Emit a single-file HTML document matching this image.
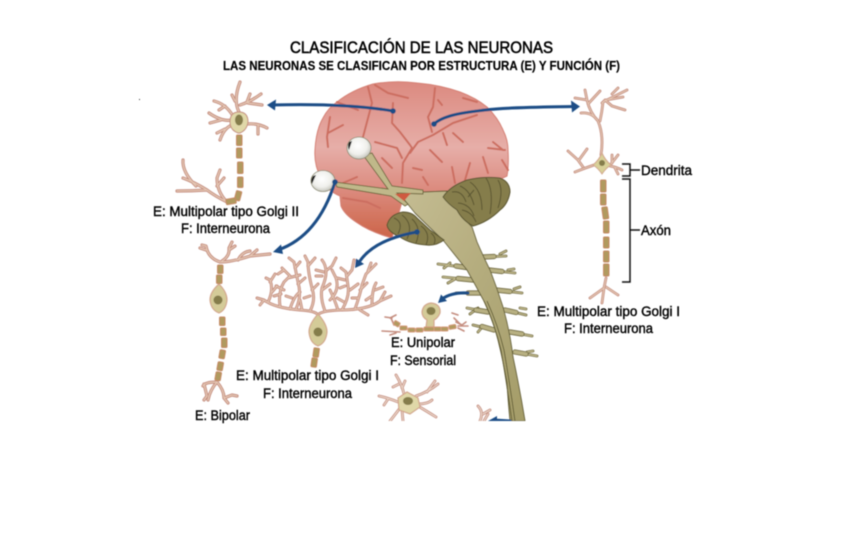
<!DOCTYPE html>
<html><head><meta charset="utf-8"><style>
html,body{margin:0;padding:0;background:#fff;width:864px;height:540px;overflow:hidden}
svg{display:block}
text{font-family:"Liberation Sans",sans-serif;fill:#000}
</style></head><body>
<svg width="864" height="540" viewBox="0 0 864 540" xmlns="http://www.w3.org/2000/svg">
<defs>
<linearGradient id="br" x1="0" y1="0" x2="0" y2="1">
<stop offset="0" stop-color="#dc8a80"/><stop offset=".42" stop-color="#e6aea8"/><stop offset=".68" stop-color="#dc8c80"/><stop offset="1" stop-color="#cc6448"/>
</linearGradient>
<linearGradient id="cord" x1="0" y1="0" x2="1" y2="1">
<stop offset="0" stop-color="#c4bc92"/><stop offset="1" stop-color="#a49c68"/>
</linearGradient>
<radialGradient id="eye" cx=".45" cy=".4" r=".7"><stop offset="0" stop-color="#fff"/><stop offset=".55" stop-color="#f0f0ec"/><stop offset="1" stop-color="#b4b4aa"/></radialGradient>
<filter id="b" x="-5%" y="-5%" width="110%" height="110%"><feGaussianBlur stdDeviation="0.4"/></filter>
<clipPath id="cut"><rect x="0" y="0" width="864" height="421"/></clipPath>

<g id="d1" fill="none" stroke-linecap="round" stroke-linejoin="round">
<path d="M239 112Q233 100 240 82M235 101L232 95M240 105Q250 102 261 94M247 102L250 94M248 103L262 105M233 116Q226 104 214 101M225 106L219 110M232 120Q222 122 209 113M221 120L210 123M232 125Q224 128 220 140M225 129L217 133M247 124Q258 123 267 128M258 125L258 134"/>
<path d="M227 202Q215 196 207 190Q192 191 177 191M207 190Q194 182 183 178M196 186Q182 172 183 160M227 202Q217 192 217 178L220 170M217 186L224 178"/>
</g>
<g id="d2" fill="none" stroke-linecap="round" stroke-linejoin="round">
<path d="M220 262Q232 262 250 256L270 254M220 262Q208 258 206 246L202 245M206 250L200 248M222 261Q230 256 229 248L232 242M229 250L235 246M238 260Q242 252 250 251M250 256L257 250"/>
<path d="M217 382Q205 382 203 386M204 384L207 396L204 400M217 382Q210 390 208 400M217 382Q224 390 224 398L232 395L237 396M224 398L228 403"/>
</g>
<g id="d3" fill="none" stroke-linecap="round" stroke-linejoin="round">
<path d="M318 315Q316 311 300 310Q275 308 264 300L257 298M264 300L260 305M318 315Q320 311 340 310Q368 310 380 301L391 296M380 301L385 292M360 310L368 315"/>
<path d="M268 302Q274 290 270 280L266 278M270 282L275 274M280 306Q278 292 284 282L290 276L282 268M288 278L300 275M284 290L276 286M290 309Q294 296 300 292M296 309Q302 296 298 282L294 262L289 258M295 268L300 262M298 284L305 278M310 311Q316 300 312 288Q308 272 308 262L305 256M308 266L315 258M312 290L318 284M325 311Q320 298 322 288Q330 270 322 260M324 272L316 270M327 270L332 266L336 258M322 290L330 284M338 310Q334 298 330 290M330 300Q340 290 336 278L332 270M342 310Q350 296 348 286L346 272L341 268M347 276L352 270L354 260M350 290L358 284M355 309Q360 295 362 285M360 290L367 283M362 285L366 274L376 264M368 271L371 263M372 304Q372 290 376 283M375 290L383 287M302 310L300 300M337 278L345 280M274 296L281 294M292 298L286 296M304 298L310 296M344 302L337 298M366 300L372 296M277 286L272 292M352 298L358 298M316 276L322 276M284 270L278 274M340 288L345 286"/>
</g>
<g id="d4" fill="none" stroke-linecap="round" stroke-linejoin="round">
<path d="M385 317L392 318M390 318L396 315M391 318L394 325M400 332L382 331M396 333L390 335M458 315L452 313M456 322L462 325L466 322M458 326L468 326M458 328L464 331M460 324L454 318"/>
</g>
<g id="d5" fill="none" stroke-linecap="round" stroke-linejoin="round">
<path d="M404 394Q402 385 396 375M399 384L393 387M402 388L405 381M416 396Q428 392 438 384M427 392L435 381M418 404Q428 404 432 400M418 406Q428 412 436 417M398 402Q388 398 379 396M388 399L384 405M400 408Q394 416 390 421M402 410L403 421"/>
<path d="M480 421Q484 412 478 406M483 414L490 410M484 421L488 414"/>
</g>
<g id="d6" fill="none" stroke-linecap="round" stroke-linejoin="round">
<path d="M601 155Q604 135 598 121Q592 112 581 113M598 121Q590 113 587 100L575 98M587 100L585 90M588 104L600 91M600 121Q602 112 603 102L627 90M604 101L602 103M606 100L623 97M605 100L612 106L625 110M612 94L618 88"/>
<path d="M594 165Q585 168 575 172M583 167L578 160L568 151M579 160L587 149M610 166Q616 167 622 170M611 164L618 155M612 163L612 155M615 168L618 174"/>
<path d="M606 278L604 288L590 298M604 288L602 303M606 287L618 295"/>
</g>
<g id="nv" fill="none" stroke-linecap="round">
<path d="M483 257L506 256M500 254L506 251M489 270L515 273M508 270L514 269M496 290L522 293M514 289L520 287M505 310L526 315M520 308L526 309M510 332L532 336M515 352L537 356M527 352L533 351M470 268L438 264M450 263L444 268M473 280L443 277M455 279L448 283M480 293L456 293M488 312L467 308M478 308L470 314M494 330L473 325M483 326L478 332"/>
</g>
<g id="rt" fill="none" stroke-linecap="round">
<path d="M483 257L494 256.500M489 270L502 271.500M496 290L510 291.500M505 310L516 312.500M510 332L522 334M515 352L526 354M470 268L456 266M473 280L458 278.500M480 293L468 293M488 312L476 310M494 330L482 326.500"/>
</g>
</defs>

<g filter="url(#b)">
<g clip-path="url(#cut)">
<!-- brain -->
<path d="M337 102Q352 90 373 84Q395 80 417 83Q440 85 460 92Q476 98 487 107Q498 118 503 130Q508 140 508 150Q509 165 507 176L490 184L443 193L403 198L392 238Q370 232 356 222Q344 214 341 206L340 196Q326 190 321 178Q314 165 315 150Q316 130 323 118Q328 108 337 102Z" fill="url(#br)" stroke="#d58074" stroke-width="1"/>
<g fill="none" stroke="#cc6e60" stroke-width="2" stroke-linecap="round" stroke-linejoin="round">
<path d="M368 87L372 103L363 137M375 85L388 93L408 98M393 103L392 123L400 132L410 145L412 148L403 163L402 183M435 88L433 107L428 117L432 132M438 100L442 105M418 142L433 135L453 123L477 115M463 98L477 102M418 142L410 153M430 150L442 162M443 133L447 145M453 133L463 142M488 148L505 150M493 142L503 150M483 157L488 173M502 160L508 170M470 163L465 180M452 167L455 183M375 142L397 148L402 158M382 158L392 168M330 117L327 137L328 147M337 102L358 110M328 133L343 125M357 177L343 183M343 198L367 202L380 208M423 177L428 185M413 168L422 170"/>
</g>
<!-- spinal nerves -->
<use href="#nv" stroke="#6b6438" stroke-width="2.8"/>
<use href="#nv" stroke="#bdb588" stroke-width="1.4"/>
<use href="#rt" stroke="#6b6438" stroke-width="5.200"/>
<use href="#rt" stroke="#b8b082" stroke-width="3.600"/>
<!-- cord -->
<path d="M403 198Q405 193 423 192L447 191Q450 202 457 210Q465 220 472 227L477 242Q484 258 490 270Q497 288 503 307Q510 332 513 357Q520 390 525 421L510 421Q508 400 507 383Q503 360 498 340Q493 320 485 303Q476 286 467 270Q455 255 443 240Q428 226 415 213Z" fill="url(#cord)" stroke="#5f5a32" stroke-width="0.9"/>
<path d="M484 301Q495 325 501 350Q507 385 512 421M487 301Q498 325 504 350Q510 385 515 421" fill="none" stroke="#5f5a32" stroke-width="0.9"/>
<!-- lower lobe -->
<path d="M387 225Q390 214 403 212Q412 212 417 218L430 230L444 240Q436 246 427 245Q410 244 400 237Q388 232 387 225Z" fill="#857d4b" stroke="#5a5530" stroke-width="1"/>
<g fill="none" stroke="#5a5530" stroke-width="1"><path d="M394 218Q404 222 398 234M402 215Q414 224 407 239M412 219Q422 228 416 243M421 226Q431 233 426 245M431 233Q437 238 434 244"/></g>
<!-- cerebellum -->
<path d="M443 197Q450 186 467 180Q483 176 500 178Q510 182 510 192Q508 204 500 210Q488 222 473 226Q462 220 457 210Q448 204 443 197Z" fill="#857d4b" stroke="#5a5530" stroke-width="1"/>
<g fill="none" stroke="#5a5530" stroke-width="1"><path d="M452 192Q462 190 466 202M460 186Q470 190 474 205M458 203Q470 204 474 216M462 210Q472 212 476 222M470 182Q482 190 482 210M486 178Q494 190 490 214M498 180Q504 190 498 208M474 190L468 197"/></g>
<!-- optic nerves -->
<path d="M363 155L372 153L392 186L423 190L423 194L397 193L408 204L405 206L391 196L337 187L335 182L388 189Z" fill="#c0b88a" stroke="#6b6438" stroke-width="0.9"/>
<path d="M395 194L411 193L404 201Z" fill="#cf5a40"/>
<!-- eyes -->
<ellipse cx="359" cy="148" rx="12" ry="11" fill="url(#eye)" stroke="#8a8a70" stroke-width=".8"/>
<path d="M349 142Q347 146 349 150L352 141Z" fill="#222"/>
<ellipse cx="323" cy="181" rx="12" ry="10.500" fill="url(#eye)" stroke="#8a8a70" stroke-width=".8"/>
<path d="M313 176Q310 180 312 184L316 175Z" fill="#222"/>

<!-- neuron 1 -->
<use href="#d1" stroke="#c58e80" stroke-width="3.2"/><use href="#d1" stroke="#e4c6b2" stroke-width="1.3"/>
<path d="M239 112Q248 112 248 122Q247 130 240 133L238 133Q230 130 230 122Q230 112 239 112Z" fill="#e0d8a8" stroke="#c58e80"/>
<ellipse cx="239" cy="120" rx="4" ry="5.500" fill="#857d4b"/>
<g fill="#b09a5e" stroke="#c68a66" stroke-width="1"><rect x="236.500" y="135" width="5.500" height="10.500" rx="1"/><rect x="236.500" y="148" width="5.500" height="10" rx="1"/><rect x="237.500" y="162" width="5.500" height="11.500" rx="1"/><rect x="237.500" y="177" width="5.500" height="10.500" rx="1"/><rect x="235.500" y="191" width="5.500" height="9.500" rx="1" transform="rotate(15 238 195)"/><rect x="226" y="198.500" width="10" height="5.500" rx="1" transform="rotate(-10 231 201)"/></g>

<!-- neuron 2 -->
<use href="#d2" stroke="#c58e80" stroke-width="3.2"/><use href="#d2" stroke="#e4c6b2" stroke-width="1.3"/>
<path d="M219 284Q227 292 227 300Q226 310 219 313Q211 310 210 300Q210 292 219 284Z" fill="#d4cb98" stroke="#d3a78e" stroke-width="1.2"/>
<ellipse cx="218" cy="300" rx="4.500" ry="4.500" fill="#857d4b"/>
<g fill="#b09a5e" stroke="#c68a66" stroke-width="1"><rect x="217.500" y="265" width="5.500" height="8.500" rx="1"/><rect x="216.500" y="275" width="5.500" height="8.500" rx="1"/><rect x="219.500" y="317" width="5.500" height="8.500" rx="1"/><rect x="220.500" y="328" width="5.500" height="7.500" rx="1"/><rect x="221.500" y="338" width="5.500" height="9.500" rx="1"/><rect x="219.500" y="350" width="5.500" height="8.500" rx="1" transform="rotate(10 222 354)"/><rect x="217.500" y="362" width="5.500" height="8.500" rx="1" transform="rotate(10 220 366)"/><rect x="215.500" y="372" width="5.500" height="8.500" rx="1" transform="rotate(10 218 376)"/></g>

<!-- neuron 3 -->
<use href="#d3" stroke="#c58e80" stroke-width="3"/><use href="#d3" stroke="#e4c6b2" stroke-width="1.1"/>
<path d="M318 314Q327 324 327 332Q326 343 318 346Q310 343 309 332Q309 324 318 314Z" fill="#d4cb98" stroke="#d3a78e" stroke-width="1.2"/>
<circle cx="318" cy="332" r="4.500" fill="#857d4b"/>
<g fill="#b09a5e" stroke="#c68a66" stroke-width="1"><rect x="313.500" y="348" width="5.500" height="9" rx="1" transform="rotate(8 316 352)"/><rect x="311.500" y="358" width="5.500" height="9" rx="1" transform="rotate(8 314 362)"/></g>

<!-- neuron 4 -->
<use href="#d4" stroke="#c58e80" stroke-width="1.6"/>
<path d="M431 303Q441 304 440 313Q438 318 434 320L434 327L426 327L427 320Q422 317 422 312Q423 304 431 303Z" fill="#d4cb98" stroke="#d3a78e" stroke-width="1.2"/>
<ellipse cx="431" cy="311" rx="4.500" ry="4" fill="#857d4b"/>
<g fill="#b09a5e" stroke="#d49a7a" stroke-width="1"><rect x="394" y="321" width="6" height="4.500" rx="1" transform="rotate(30 396 323)"/><rect x="400" y="326" width="7" height="4" rx="1"/><rect x="408" y="328" width="7" height="4" rx="1"/><rect x="416" y="328" width="7" height="4" rx="1"/><rect x="424" y="327" width="10" height="4" rx="1"/><rect x="434" y="327" width="7" height="4" rx="1"/><rect x="441" y="327" width="7" height="4" rx="1"/><rect x="449" y="325" width="7" height="4" rx="1" transform="rotate(-10 452 327)"/></g>

<!-- neuron 5 -->
<use href="#d5" stroke="#c58e80" stroke-width="2.8"/><use href="#d5" stroke="#ecd8ca" stroke-width="1.1"/>
<path d="M398 398L407 392L418 398L420 407L410 414L399 410Z" fill="#e0d8a8" stroke="#d3a78e" stroke-width="1.2"/>
<ellipse cx="408" cy="401" rx="5" ry="4" fill="#857d4b"/>

<!-- neuron right -->
<use href="#d6" stroke="#c58e80" stroke-width="2.8"/><use href="#d6" stroke="#e4c6b2" stroke-width="1.1"/>
<path d="M602 153Q605 160 611 165Q606 168 602 174Q598 168 593 165Q599 160 602 153Z" fill="#d8d098" stroke="#d3a78e" stroke-width="1"/>
<ellipse cx="602" cy="163" rx="3" ry="3" fill="#857d4b"/>
<g fill="#b09a5e" stroke="#c68a66" stroke-width="1"><rect x="600.500" y="180" width="5.500" height="12" rx="1"/><rect x="600.500" y="194" width="5.500" height="11" rx="1"/><rect x="602.500" y="207" width="5.500" height="12" rx="1" transform="rotate(-8 605 213)"/><rect x="603.500" y="221" width="5.500" height="12" rx="1"/><rect x="603.500" y="237" width="5.500" height="11" rx="1"/><rect x="603.500" y="251" width="5.500" height="11" rx="1"/><rect x="603.500" y="264" width="5.500" height="12" rx="1"/></g>

<!-- arrows -->
<g fill="none" stroke="#1f4e86" stroke-width="3" stroke-linecap="round">
<path d="M393 111Q345 103 272 105"/>
<path d="M434 124C445 114 470 112 485 110C510 107 550 107 574 106.500"/>
<path d="M335 182Q318 236 278 250"/>
<path d="M417 232Q372 240 358 264"/>
<path d="M468 293Q452 292 442 299"/>
<path d="M510 421L494 420"/>
</g>
<g fill="#1f4e86">
<circle cx="393" cy="111" r="2.800"/><circle cx="434" cy="124" r="2.800"/><circle cx="335" cy="182" r="2.800"/><circle cx="417" cy="232" r="2.800"/>
<path d="M267 105L276 99.500L275 110.500Z"/><path d="M580 106.500L571 100.500L572 112.500Z"/><path d="M273 252L281 244.500L283 254Z"/><path d="M355 268L356 258.500L364 264Z"/><path d="M438 303L441 294.500L447 301Z"/><path d="M488 421L497 416L497 425Z"/>
</g>
</g>
<rect x="139" y="99" width="1" height="1" fill="#333"/>

<!-- brackets -->
<g fill="none" stroke="#111" stroke-width="1.5">
<path d="M622 164H630V176H622M630 170H640M622 179H630V282H622M630 230H640"/>
</g>

<!-- text -->
<text x="290" y="53" font-size="17" stroke="#000" stroke-width=".55" textLength="263" lengthAdjust="spacingAndGlyphs">CLASIFICACIÓN DE LAS NEURONAS</text>
<text x="223" y="70" font-size="12.500" font-weight="bold" stroke="#000" stroke-width=".15" textLength="397" lengthAdjust="spacingAndGlyphs">LAS NEURONAS SE CLASIFICAN POR ESTRUCTURA (E) Y FUNCIÓN (F)</text>
<g font-size="13.500" stroke="#000" stroke-width=".4">
<text x="153" y="216" textLength="146" lengthAdjust="spacingAndGlyphs">E: Multipolar tipo Golgi II</text>
<text x="181" y="233" textLength="89" lengthAdjust="spacingAndGlyphs">F: Interneurona</text>
<text x="236" y="380" textLength="143" lengthAdjust="spacingAndGlyphs">E: Multipolar tipo Golgi I</text>
<text x="263" y="398" textLength="89" lengthAdjust="spacingAndGlyphs">F: Interneurona</text>
<text x="195" y="420" textLength="55" lengthAdjust="spacingAndGlyphs">E: Bipolar</text>
<text x="391" y="347" textLength="64" lengthAdjust="spacingAndGlyphs">E: Unipolar</text>
<text x="390" y="365" textLength="66" lengthAdjust="spacingAndGlyphs">F: Sensorial</text>
<text x="537" y="316" textLength="143" lengthAdjust="spacingAndGlyphs">E: Multipolar tipo Golgi I</text>
<text x="564" y="333" textLength="89" lengthAdjust="spacingAndGlyphs">F: Interneurona</text>
<text x="641" y="175" textLength="51" lengthAdjust="spacingAndGlyphs">Dendrita</text>
<text x="641" y="235" textLength="30" lengthAdjust="spacingAndGlyphs">Axón</text>
</g>
</g>
</svg>
</body></html>
